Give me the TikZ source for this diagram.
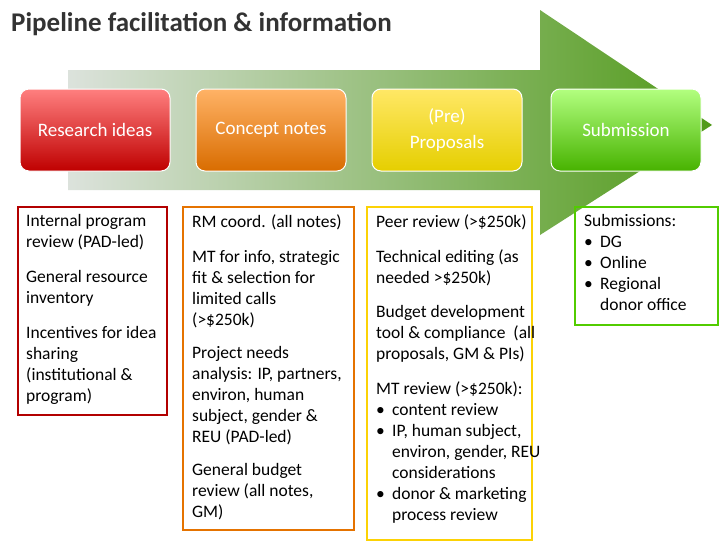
\documentclass[tikz,border=0pt]{standalone}
\usepackage{fontspec}
\setmainfont{Carlito}
\begin{document}
\begin{tikzpicture}[x=1pt,y=-1pt,
 stage/.style={rounded corners=9pt,draw=white,line width=1pt,minimum width=150pt,minimum height=82pt,text=white,font=\fontsize{19}{22}\selectfont,align=center},
 info/.style={draw,line width=1.2pt,anchor=north west,inner sep=0pt},
 txt/.style={anchor=north west,align=left,font=\fontsize{17.5}{21}\selectfont,inner sep=0pt}]
\useasboundingbox (0,0) rectangle (728,546);
\fill[white] (0,0) rectangle (728,546);
\shade[left color=green!10!gray!25,right color=green!40!olive!80!black!90]
 (68,70)--(540,70)--(540,10)--(712,125)--(540,235)--(540,190)--(68,190)--cycle;
\node[txt,font=\fontsize{27}{30}\selectfont\bfseries,text=black!80] (title) at (11,12) {\textbf{Pipeline facilitation \& information}};
\node[stage,top color=red!50,bottom color=red!75!black] (s1) at (95,130) {Research ideas};
\node[stage,top color=orange!60,bottom color=orange!85!black] (s2) at (271,130) {Concept notes};
\node[stage,top color=yellow!70!orange!60,bottom color=yellow!80!orange!90!black] (s3) at (447,130) {(Pre)\\[4pt]Proposals};
\node[stage,top color=green!60!yellow!50,bottom color=green!60!yellow!70!black] (s4) at (626,130) {Submission};
\draw[info,draw=red!70!black] (18,207) rectangle (167,415);
\draw[info,draw=orange!90!black] (183,207) rectangle (354,530);
\draw[info,draw=yellow!70!orange] (367,207) rectangle (532,540);
\draw[info,draw=green!60!yellow!80!black] (575,207) rectangle (718,325);
\node[txt] (t1) at (26,214) {Internal program\\review (PAD-led)\\[14pt]General resource\\inventory\\[14pt]Incentives for idea\\sharing\\(institutional \&\\program)};
\node[txt] (t2) at (192,214) {RM coord. (all notes)\\[14pt]MT for info, strategic\\fit \& selection for\\limited calls\\(>\$250k)\\[12pt]Project needs\\analysis: IP, partners,\\environ, human\\subject, gender \&\\REU (PAD-led)\\[12pt]General budget\\review (all notes,\\GM)};
\node[txt] (t3) at (376,214) {Peer review (>\$250k)\\[14pt]Technical editing (as\\needed >\$250k)\\[13pt]Budget development\\tool \& compliance~ (all\\proposals, GM \& PIs)\\[14pt]MT review (>\$250k):\\\makebox[16pt][l]{•}content review\\\makebox[16pt][l]{•}IP, human subject,\\\hspace*{16pt}environ, gender, REU\\\hspace*{16pt}considerations\\\makebox[16pt][l]{•}donor \& marketing\\\hspace*{16pt}process review};
\node[txt] (t4) at (584,214) {Submissions:\\\makebox[16pt][l]{•}DG\\\makebox[16pt][l]{•}Online\\\makebox[16pt][l]{•}Regional\\\hspace*{16pt}donor office};
\end{tikzpicture}
\end{document}
